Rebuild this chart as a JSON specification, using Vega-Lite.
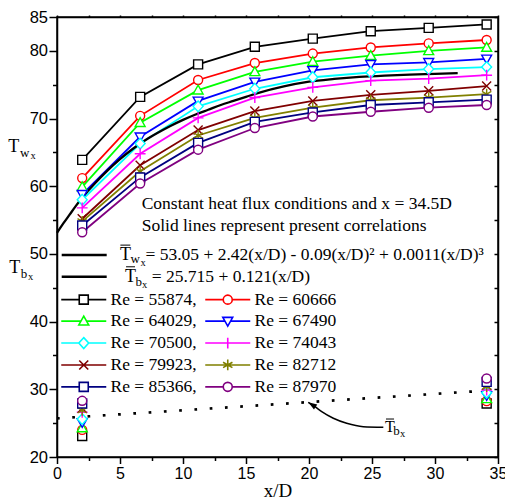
{
 "$schema": "https://vega.github.io/schema/vega-lite/v6.json",
 "width": 441, "height": 440,
 "autosize": {"type": "none"},
 "padding": {"left": 57, "top": 17, "right": 7, "bottom": 43},
 "background": "white",
 "config": {
  "view": {"stroke": "black", "strokeWidth": 1.5},
  "axis": {"domainColor": "black", "domainWidth": 1.5, "tickColor": "black", "tickWidth": 1.5, "labelFont": "Liberation Sans", "labelFontSize": 16.5, "labelColor": "black", "titleFont": "Liberation Serif", "titleFontSize": 19, "titleFontWeight": "normal", "titleColor": "black", "grid": false},
  "legend": {"orient": "none", "legendX": -4, "legendY": 273.5, "columns": 2, "direction": "horizontal", "title": null, "padding": 0,
        "labelFont": "Liberation Serif", "labelFontSize": 17.5, "labelColor": "black", "labelLimit": 300,
        "symbolSize": 81, "symbolStrokeWidth": 1.6, "symbolFillColor": "white", "symbolOpacity": 1, "symbolOffset": 22, "labelOffset": 18, "columnPadding": 0, "rowPadding": 2.9},
  "text": {"font": "Liberation Serif", "color": "black"}
 },
 "datasets": {
  "series": [
   {"Re":"55874","kind":"w","x":2,"T":63.9},{"Re":"55874","kind":"w","x":6.6,"T":73.2},{"Re":"55874","kind":"w","x":11.2,"T":78.0},{"Re":"55874","kind":"w","x":15.7,"T":80.6},{"Re":"55874","kind":"w","x":20.3,"T":81.8},{"Re":"55874","kind":"w","x":24.9,"T":82.9},{"Re":"55874","kind":"w","x":29.5,"T":83.4},{"Re":"55874","kind":"w","x":34.1,"T":83.9},
   {"Re":"60666","kind":"w","x":2,"T":61.2},{"Re":"60666","kind":"w","x":6.6,"T":70.4},{"Re":"60666","kind":"w","x":11.2,"T":75.7},{"Re":"60666","kind":"w","x":15.7,"T":78.2},{"Re":"60666","kind":"w","x":20.3,"T":79.6},{"Re":"60666","kind":"w","x":24.9,"T":80.5},{"Re":"60666","kind":"w","x":29.5,"T":81.1},{"Re":"60666","kind":"w","x":34.1,"T":81.6},
   {"Re":"64029","kind":"w","x":2,"T":59.9},{"Re":"64029","kind":"w","x":6.6,"T":69.4},{"Re":"64029","kind":"w","x":11.2,"T":74.2},{"Re":"64029","kind":"w","x":15.7,"T":76.9},{"Re":"64029","kind":"w","x":20.3,"T":78.4},{"Re":"64029","kind":"w","x":24.9,"T":79.3},{"Re":"64029","kind":"w","x":29.5,"T":80.0},{"Re":"64029","kind":"w","x":34.1,"T":80.5},
   {"Re":"67490","kind":"w","x":2,"T":58.8},{"Re":"67490","kind":"w","x":6.6,"T":67.3},{"Re":"67490","kind":"w","x":11.2,"T":72.6},{"Re":"67490","kind":"w","x":15.7,"T":75.4},{"Re":"67490","kind":"w","x":20.3,"T":77.1},{"Re":"67490","kind":"w","x":24.9,"T":78.0},{"Re":"67490","kind":"w","x":29.5,"T":78.3},{"Re":"67490","kind":"w","x":34.1,"T":78.8},
   {"Re":"70500","kind":"w","x":2,"T":58.0},{"Re":"70500","kind":"w","x":6.6,"T":66.3},{"Re":"70500","kind":"w","x":11.2,"T":71.8},{"Re":"70500","kind":"w","x":15.7,"T":74.4},{"Re":"70500","kind":"w","x":20.3,"T":76.1},{"Re":"70500","kind":"w","x":24.9,"T":76.8},{"Re":"70500","kind":"w","x":29.5,"T":77.3},{"Re":"70500","kind":"w","x":34.1,"T":77.6},
   {"Re":"74043","kind":"w","x":2,"T":56.8},{"Re":"74043","kind":"w","x":6.6,"T":64.8},{"Re":"74043","kind":"w","x":11.2,"T":70.1},{"Re":"74043","kind":"w","x":15.7,"T":73.1},{"Re":"74043","kind":"w","x":20.3,"T":74.6},{"Re":"74043","kind":"w","x":24.9,"T":75.6},{"Re":"74043","kind":"w","x":29.5,"T":75.9},{"Re":"74043","kind":"w","x":34.1,"T":76.4},
   {"Re":"79923","kind":"w","x":2,"T":55.2},{"Re":"79923","kind":"w","x":6.6,"T":63.1},{"Re":"79923","kind":"w","x":11.2,"T":68.3},{"Re":"79923","kind":"w","x":15.7,"T":71.1},{"Re":"79923","kind":"w","x":20.3,"T":72.6},{"Re":"79923","kind":"w","x":24.9,"T":73.5},{"Re":"79923","kind":"w","x":29.5,"T":74.1},{"Re":"79923","kind":"w","x":34.1,"T":74.8},
   {"Re":"82712","kind":"w","x":2,"T":54.8},{"Re":"82712","kind":"w","x":6.6,"T":62.2},{"Re":"82712","kind":"w","x":11.2,"T":67.5},{"Re":"82712","kind":"w","x":15.7,"T":70.1},{"Re":"82712","kind":"w","x":20.3,"T":71.6},{"Re":"82712","kind":"w","x":24.9,"T":72.7},{"Re":"82712","kind":"w","x":29.5,"T":73.1},{"Re":"82712","kind":"w","x":34.1,"T":73.6},
   {"Re":"85366","kind":"w","x":2,"T":54.2},{"Re":"85366","kind":"w","x":6.6,"T":61.3},{"Re":"85366","kind":"w","x":11.2,"T":66.4},{"Re":"85366","kind":"w","x":15.7,"T":69.5},{"Re":"85366","kind":"w","x":20.3,"T":70.9},{"Re":"85366","kind":"w","x":24.9,"T":72.0},{"Re":"85366","kind":"w","x":29.5,"T":72.4},{"Re":"85366","kind":"w","x":34.1,"T":72.8},
   {"Re":"87970","kind":"w","x":2,"T":53.2},{"Re":"87970","kind":"w","x":6.6,"T":60.4},{"Re":"87970","kind":"w","x":11.2,"T":65.4},{"Re":"87970","kind":"w","x":15.7,"T":68.6},{"Re":"87970","kind":"w","x":20.3,"T":70.3},{"Re":"87970","kind":"w","x":24.9,"T":71.0},{"Re":"87970","kind":"w","x":29.5,"T":71.6},{"Re":"87970","kind":"w","x":34.1,"T":72.0},
   {"Re":"55874","kind":"b","x":2,"T":23.1},{"Re":"55874","kind":"b","x":34.1,"T":27.9},
   {"Re":"60666","kind":"b","x":2,"T":24.0},{"Re":"60666","kind":"b","x":34.1,"T":28.25},
   {"Re":"64029","kind":"b","x":2,"T":24.3},{"Re":"64029","kind":"b","x":34.1,"T":28.6},
   {"Re":"67490","kind":"b","x":2,"T":25.1},{"Re":"67490","kind":"b","x":34.1,"T":29.1},
   {"Re":"70500","kind":"b","x":2,"T":25.6},{"Re":"70500","kind":"b","x":34.1,"T":29.5},
   {"Re":"74043","kind":"b","x":2,"T":26.6},{"Re":"74043","kind":"b","x":34.1,"T":29.9},
   {"Re":"79923","kind":"b","x":2,"T":27.2},{"Re":"79923","kind":"b","x":34.1,"T":30.6},
   {"Re":"82712","kind":"b","x":2,"T":26.9},{"Re":"82712","kind":"b","x":34.1,"T":30.4},
   {"Re":"85366","kind":"b","x":2,"T":27.9},{"Re":"85366","kind":"b","x":34.1,"T":31.1},
   {"Re":"87970","kind":"b","x":2,"T":28.3},{"Re":"87970","kind":"b","x":34.1,"T":31.6}
  ],
  "curves": [
   {"curve":"w","x":0,"T":53.1},{"curve":"w","x":0.5,"T":54.5},{"curve":"w","x":1,"T":55.8},{"curve":"w","x":1.5,"T":57.1},{"curve":"w","x":2,"T":58.3},{"curve":"w","x":3,"T":60.4},{"curve":"w","x":4,"T":62.3},{"curve":"w","x":5,"T":64.0},{"curve":"w","x":6,"T":65.5},{"curve":"w","x":7,"T":66.8},{"curve":"w","x":8,"T":67.9},{"curve":"w","x":9,"T":68.9},{"curve":"w","x":10,"T":69.8},{"curve":"w","x":11,"T":70.6},{"curve":"w","x":12,"T":71.3},{"curve":"w","x":13,"T":72.0},{"curve":"w","x":14,"T":72.6},{"curve":"w","x":15,"T":73.2},{"curve":"w","x":16,"T":73.8},{"curve":"w","x":18,"T":74.75},{"curve":"w","x":20,"T":75.45},{"curve":"w","x":22,"T":75.85},{"curve":"w","x":24,"T":76.15},{"curve":"w","x":26,"T":76.35},{"curve":"w","x":28,"T":76.5},{"curve":"w","x":30,"T":76.6},{"curve":"w","x":31.8,"T":76.7},
   {"curve":"b","x":0,"T":25.7},{"curve":"b","x":34,"T":29.8}
  ],
  "bars": [
   {"role":"eq","x1":0.373,"x2":3.944,"y":49.84},
   {"role":"eq","x1":0.373,"x2":3.944,"y":46.64},
   {"role":"bar","x1":5.03,"x2":5.82,"y":51.3},
   {"role":"bar","x1":5.48,"x2":6.19,"y":48.1},
   {"role":"bar","x1":26.11,"x2":26.75,"y":25.61}
  ],
  "arrow": [
   {"x":25.9,"T":24.39},{"x":24.31,"T":24.48},{"x":22.99,"T":24.98},{"x":21.93,"T":25.72},{"x":21.01,"T":26.69},{"x":20.48,"T":27.43},{"x":19.94,"T":28.08}
  ],
  "notes": [
   {"role":"text","t":"Constant heat flux conditions and x = 34.5D","ax":6.72,"ay":56.71},
   {"role":"text","t":"Solid lines represent present correlations","ax":6.72,"ay":53.39},
   {"role":"text","t":"= 53.05 + 2.42(x/D) - 0.09(x/D)² + 0.0011(x/D)³","ax":7.02,"ay":49.10},
   {"role":"text","t":"= 25.715 + 0.121(x/D)","ax":7.52,"ay":45.90},
   {"role":"T","t":"T","ax":5.0,"ay":49.10},
   {"role":"T","t":"T","ax":5.40,"ay":45.90},
   {"role":"T","t":"T","ax":-3.865,"ay":65.10},
   {"role":"T","t":"T","ax":-3.786,"ay":47.14},
   {"role":"Tsmall","t":"T","ax":26.03,"ay":23.74},
   {"role":"sub","t":"w","ax":5.83,"ay":48.59},
   {"role":"subsub","t":"x","ax":6.63,"ay":48.22},
   {"role":"sub","t":"b","ax":6.23,"ay":45.33},
   {"role":"subsub","t":"x","ax":6.75,"ay":44.97},
   {"role":"sub","t":"w","ax":-2.937,"ay":64.36},
   {"role":"subsub","t":"x","ax":-2.103,"ay":64.02},
   {"role":"sub","t":"b","ax":-2.881,"ay":46.40},
   {"role":"subsub","t":"x","ax":-2.302,"ay":46.15},
   {"role":"sub","t":"b","ax":26.69,"ay":23.25},
   {"role":"subsub","t":"x","ax":27.22,"ay":23.0}
  ]
 },
 "resolve": {"axis": {"x": "independent", "y": "independent"}},
 "layer": [
  {
   "data": {"name": "series"},
   "transform": [{"filter": "datum.kind === 'w'"}],
   "mark": {"type": "line", "strokeWidth": 1.8},
   "encoding": {
    "x": {"field": "x", "type": "quantitative", "scale": {"domain": [0, 35], "nice": false, "zero": false},
      "axis": {"orient": "bottom", "values": [0,2.5,5,7.5,10,12.5,15,17.5,20,22.5,25,27.5,30,32.5,35], "labelExpr": "datum.value % 5 === 0 ? datum.label : ''", "tickSize": {"condition": {"test": "datum.value % 5 !== 0", "value": 3.5}, "value": 6.5}, "labelFlush": false, "labelOverlap": false, "labelPadding": 1.5, "labelFontSize": 16, "title": "x/D", "titlePadding": 0}},
    "y": {"field": "T", "type": "quantitative", "scale": {"domain": [20, 85], "nice": false, "zero": false},
      "axis": {"orient": "left", "values": [20,25,30,35,40,45,50,55,60,65,70,75,80,85], "labelExpr": "datum.value % 10 === 0 || datum.value === 85 ? datum.label : ''", "tickSize": {"condition": {"test": "datum.value % 10 !== 0 && datum.value !== 85", "value": 4.5}, "value": 8}, "labelFlush": false, "labelOverlap": false, "labelPadding": 1.5, "title": null}},
    "stroke": {"field": "Re", "type": "nominal", "scale": {"domain": ["55874","60666","64029","67490","70500","74043","79923","82712","85366","87970"], "range": ["#000000","#FF0000","#00FF00","#0000FF","#00FFFF","#FF00FF","#800000","#808000","#000080","#800080"]}}
   }
  },
  {
   "data": {"name": "curves"},
   "transform": [{"filter": "datum.curve === 'w'"}],
   "mark": {"type": "line", "strokeWidth": 2.3, "color": "black", "interpolate": "monotone"},
   "encoding": {
    "x": {"field": "x", "type": "quantitative", "axis": null},
    "y": {"field": "T", "type": "quantitative", "axis": null}
   }
  },
  {
   "data": {"name": "curves"},
   "transform": [{"filter": "datum.curve === 'b'"}],
   "mark": {"type": "line", "strokeWidth": 2.7, "color": "black", "strokeDash": [2.7, 12.6], "strokeCap": "butt"},
   "encoding": {
    "x": {"field": "x", "type": "quantitative", "axis": null},
    "y": {"field": "T", "type": "quantitative", "axis": null}
   }
  },
  {
   "data": {"name": "series"},
   "mark": {"type": "point", "fill": "white", "filled": false, "strokeWidth": 1.4, "size": 81, "opacity": 1},
   "encoding": {
    "x": {"field": "x", "type": "quantitative", "scale": {"domain": [0, 35], "nice": false, "zero": false},
      "axis": {"orient": "top", "values": [0,2.5,5,7.5,10,12.5,15,17.5,20,22.5,25,27.5,30,32.5,35], "labels": false, "tickSize": 2, "title": null}},
    "y": {"field": "T", "type": "quantitative", "scale": {"domain": [20, 85], "nice": false, "zero": false},
      "axis": {"orient": "right", "values": [20,25,30,35,40,45,50,55,60,65,70,75,80,85], "labels": false, "tickSize": -4, "title": null}},
    "stroke": {"field": "Re", "type": "nominal",
      "legend": {
        "labelExpr": "'Re = ' + datum.label + (indexof(['55874','64029','70500','79923','85366'], datum.value) >= 0 ? ',' : '')",
        "symbolType": {"expr": "['M-5,0H-1M1,0H5M-1,-1H1V1H-1Z','M-5,0H-1M1,0H5M1,0A1,1,0,1,1,-1,0A1,1,0,1,1,1,0Z','M-5,0H-0.62M0.62,0H5M0,-1.1L1.1,0.85H-1.1Z','M-5,0H-0.62M0.62,0H5M0,1.1L1.1,-0.85H-1.1Z','M-5,0H-1.1M1.1,0H5M0,-1.2L1.1,0L0,1.2L-1.1,0Z','M-5,0H5M0,-1.2V1.2','M-5,0H5M-1,-1L1,1M-1,1L1,-1','M-5,0H5M0,-1.2V1.2M-1.04,-0.6L1.04,0.6M-1.04,0.6L1.04,-0.6','M-5,0H-1M1,0H5M-1,-1H1V1H-1Z','M-5,0H-1M1,0H5M1,0A1,1,0,1,1,-1,0A1,1,0,1,1,1,0Z'][indexof(['55874','60666','64029','67490','70500','74043','79923','82712','85366','87970'], datum.value)]"}}},
    "shape": {"field": "Re", "type": "nominal", "legend": null,
      "scale": {"domain": ["87970","85366","82712","79923","74043","70500","67490","64029","60666","55874"],
        "range": ["M1,0A1,1,0,1,1,-1,0A1,1,0,1,1,1,0Z","M-1,-1H1V1H-1Z","M0,-1.2V1.2M-1.04,-0.6L1.04,0.6M-1.04,0.6L1.04,-0.6","M-1,-1L1,1M-1,1L1,-1","M-1.2,0H1.2M0,-1.2V1.2","M0,-1.2L1.1,0L0,1.2L-1.1,0Z","M0,1.1L1.1,-0.85H-1.1Z","M0,-1.1L1.1,0.85H-1.1Z","M1,0A1,1,0,1,1,-1,0A1,1,0,1,1,1,0Z","M-1,-1H1V1H-1Z"]}}
   }
  },
  {
   "data": {"name": "bars"},
   "transform": [{"filter": "datum.role === 'eq'"}],
   "mark": {"type": "rule", "strokeWidth": 2.5, "color": "black"},
   "encoding": {
    "x": {"field": "x1", "type": "quantitative", "axis": null},
    "x2": {"field": "x2"},
    "y": {"field": "y", "type": "quantitative", "axis": null}
   }
  },
  {
   "data": {"name": "bars"},
   "transform": [{"filter": "datum.role === 'bar'"}],
   "mark": {"type": "rule", "strokeWidth": 1, "color": "black"},
   "encoding": {
    "x": {"field": "x1", "type": "quantitative", "axis": null},
    "x2": {"field": "x2"},
    "y": {"field": "y", "type": "quantitative", "axis": null}
   }
  },
  {
   "data": {"name": "arrow"},
   "mark": {"type": "line", "strokeWidth": 1.5, "color": "black", "interpolate": "monotone"},
   "encoding": {
    "x": {"field": "x", "type": "quantitative", "axis": null},
    "y": {"field": "T", "type": "quantitative", "axis": null}
   }
  },
  {
   "data": {"values": [{"x": 19.94, "T": 28.08}]},
   "mark": {"type": "point", "shape": "M0,0L0.75,2.2L-0.75,2.2Z", "filled": true, "color": "black", "size": 64, "angle": 303, "opacity": 1},
   "encoding": {
    "x": {"field": "x", "type": "quantitative", "axis": null},
    "y": {"field": "T", "type": "quantitative", "axis": null}
   }
  },
  {
   "data": {"name": "notes"},
   "transform": [{"filter": "datum.role === 'text'"}],
   "mark": {"type": "text", "align": "left", "baseline": "alphabetic", "fontSize": 17.5, "font": "Liberation Serif", "color": "black"},
   "encoding": {
    "x": {"field": "ax", "type": "quantitative", "axis": null},
    "y": {"field": "ay", "type": "quantitative", "axis": null},
    "text": {"field": "t"}
   }
  },
  {
   "data": {"name": "notes"},
   "transform": [{"filter": "datum.role === 'T'"}],
   "mark": {"type": "text", "align": "left", "baseline": "alphabetic", "fontSize": 18, "font": "Liberation Serif", "color": "black"},
   "encoding": {
    "x": {"field": "ax", "type": "quantitative", "axis": null},
    "y": {"field": "ay", "type": "quantitative", "axis": null},
    "text": {"field": "t"}
   }
  },
  {
   "data": {"name": "notes"},
   "transform": [{"filter": "datum.role === 'Tsmall'"}],
   "mark": {"type": "text", "align": "left", "baseline": "alphabetic", "fontSize": 16, "font": "Liberation Serif", "color": "black"},
   "encoding": {
    "x": {"field": "ax", "type": "quantitative", "axis": null},
    "y": {"field": "ay", "type": "quantitative", "axis": null},
    "text": {"field": "t"}
   }
  },
  {
   "data": {"name": "notes"},
   "transform": [{"filter": "datum.role === 'sub'"}],
   "mark": {"type": "text", "align": "left", "baseline": "alphabetic", "fontSize": 13, "font": "Liberation Serif", "color": "black"},
   "encoding": {
    "x": {"field": "ax", "type": "quantitative", "axis": null},
    "y": {"field": "ay", "type": "quantitative", "axis": null},
    "text": {"field": "t"}
   }
  },
  {
   "data": {"name": "notes"},
   "transform": [{"filter": "datum.role === 'subsub'"}],
   "mark": {"type": "text", "align": "left", "baseline": "alphabetic", "fontSize": 10.5, "font": "Liberation Serif", "color": "black"},
   "encoding": {
    "x": {"field": "ax", "type": "quantitative", "axis": null},
    "y": {"field": "ay", "type": "quantitative", "axis": null},
    "text": {"field": "t"}
   }
  }
 ]
}
